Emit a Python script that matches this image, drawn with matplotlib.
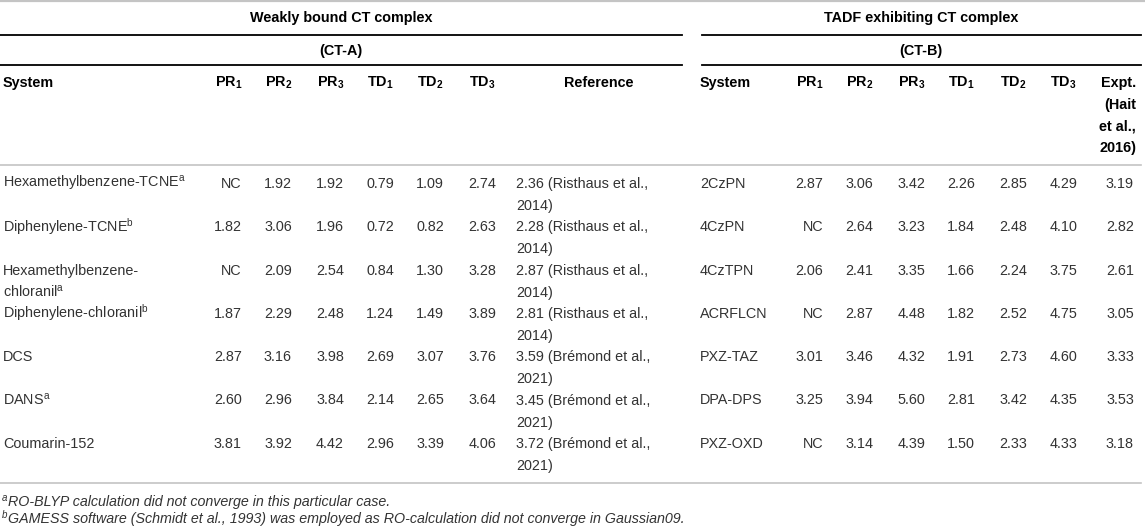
import matplotlib.pyplot as plt

plt.rcParams['font.family'] = ['Liberation Sans', 'DejaVu Sans']
plt.rcParams['mathtext.fontset'] = 'custom'
plt.rcParams['mathtext.rm'] = 'Liberation Sans'
plt.rcParams['mathtext.it'] = 'Liberation Sans:italic'
plt.rcParams['mathtext.bf'] = 'Liberation Sans:bold'

# ---- data: CT-A (weakly bound CT complex) ----
sys_a = ['Hexamethylbenzene-TCNE$^{\\rm a}$', 'Diphenylene-TCNE$^{\\rm b}$',
         'Hexamethylbenzene-\nchloranil$^{\\rm a}$', 'Diphenylene-chloranil$^{\\rm b}$',
         'DCS', 'DANS$^{\\rm a}$', 'Coumarin-152']
pr1_a = [None, 1.82, None, 1.87, 2.87, 2.60, 3.81]
pr2_a = [1.92, 3.06, 2.09, 2.29, 3.16, 2.96, 3.92]
pr3_a = [1.92, 1.96, 2.54, 2.48, 3.98, 3.84, 4.42]
td1_a = [0.79, 0.72, 0.84, 1.24, 2.69, 2.14, 2.96]
td2_a = [1.09, 0.82, 1.30, 1.49, 3.07, 2.65, 3.39]
td3_a = [2.74, 2.63, 3.28, 3.89, 3.76, 3.64, 4.06]
ref_val = [2.36, 2.28, 2.87, 2.81, 3.59, 3.45, 3.72]
ref_cite = ['(Risthaus et al.,\n2014)'] * 4 + ['(Brémond et al.,\n2021)'] * 3

# ---- data: CT-B (TADF exhibiting CT complex) ----
sys_b = ['2CzPN', '4CzPN', '4CzTPN', 'ACRFLCN', 'PXZ-TAZ', 'DPA-DPS', 'PXZ-OXD']
pr1_b = [2.87, None, 2.06, None, 3.01, 3.25, None]
pr2_b = [3.06, 2.64, 2.41, 2.87, 3.46, 3.94, 3.14]
pr3_b = [3.42, 3.23, 3.35, 4.48, 4.32, 5.60, 4.39]
td1_b = [2.26, 1.84, 1.66, 1.82, 1.91, 2.81, 1.50]
td2_b = [2.85, 2.48, 2.24, 2.52, 2.73, 3.42, 2.33]
td3_b = [4.29, 4.10, 3.75, 4.75, 4.60, 4.35, 4.33]
expt_b = [3.19, 2.82, 2.61, 3.05, 3.33, 3.53, 3.18]

num_heads = [r'PR$_{\mathbf{1}}$', r'PR$_{\mathbf{2}}$', r'PR$_{\mathbf{3}}$',
             r'TD$_{\mathbf{1}}$', r'TD$_{\mathbf{2}}$', r'TD$_{\mathbf{3}}$']
foot_marks = ['a', 'b']
foot_texts = ['RO-BLYP calculation did not converge in this particular case.',
              'GAMESS software (Schmidt et al., 1993) was employed as '
              'RO-calculation did not converge in Gaussian09.']

W, H = 1145, 528
fig = plt.figure(figsize=(W / 100, H / 100), dpi=100)
ax = fig.add_axes([0, 0, 1, 1])
ax.set_xlim(0, W)
ax.set_ylim(H, 0)
ax.axis('off')

FS = 10.4
BODY = '#333333'
GRAY = '#c4c4c4'


def put(x, y, s, ha='left', bold=False, color=BODY, step=22, fs=FS, **kw):
    # y is the visual centre of the first line
    for i, line in enumerate(s.split('\n')):
        ax.text(x, y + 5 + i * step, line, ha=ha, va='baseline', fontsize=fs,
                fontweight='bold' if bold else 'normal', color=color, **kw)


def fmt(v):
    return 'NC' if v is None else f'{v:.2f}'


# rules
ax.plot([0, W], [0.8, 0.8], color=GRAY, lw=1.6)
for y in (35, 65):
    ax.plot([0, 682], [y, y], color='black', lw=1.3)
    ax.plot([702, 1141], [y, y], color='black', lw=1.3)
ax.plot([0, 1141], [165, 165], color=GRAY, lw=1.2)
ax.plot([0, 1141], [483, 483], color=GRAY, lw=1.2)

# group headers
put(341, 17, 'Weakly bound CT complex', ha='center', bold=True, color='black')
put(921, 17, 'TADF exhibiting CT complex', ha='center', bold=True, color='black')
put(341, 50, '(CT-A)', ha='center', bold=True, color='black')
put(921, 50, '(CT-B)', ha='center', bold=True, color='black')

# column headers
hy = 82
cols_a = [242, 292, 344, 394, 444, 496]
cols_b = [823, 873, 925, 975, 1027, 1077]
put(3, hy, 'System', bold=True, color='black')
put(700, hy, 'System', bold=True, color='black')
for xa, xb, h in zip(cols_a, cols_b, num_heads):
    put(xa, hy, h, ha='right', bold=True, color='black')
    put(xb, hy, h, ha='right', bold=True, color='black')
put(599, hy, 'Reference', ha='center', bold=True, color='black')
put(1136, hy, 'Expt.\n(Hait\net al.,\n2016)', ha='right', bold=True, color='black', step=21.7)

# body rows
data_a = [pr1_a, pr2_a, pr3_a, td1_a, td2_a, td3_a]
data_b = [pr1_b, pr2_b, pr3_b, td1_b, td2_b, td3_b]
for i in range(len(sys_a)):
    y = 183 + 43.3 * i
    put(3, y, sys_a[i])
    for x, col in zip(cols_a, data_a):
        put(x, y, fmt(col[i]), ha='right')
    put(516, y, f'{ref_val[i]:.2f} ' + ref_cite[i])
    put(700, y, sys_b[i])
    for x, col in zip(cols_b, data_b):
        put(x, y, fmt(col[i]), ha='right')
    put(1134, y, fmt(expt_b[i]), ha='right')

# footnotes: small superscript marker drawn as its own text
for k, (m, t) in enumerate(zip(foot_marks, foot_texts)):
    yb = 506 + 17 * k
    ax.text(2, yb - 5, m, ha='left', va='baseline', fontsize=7, style='italic', color=BODY)
    ax.text(8, yb, t, ha='left', va='baseline', fontsize=10.3, style='italic', color=BODY)

fig.savefig('out.png', dpi=100)
